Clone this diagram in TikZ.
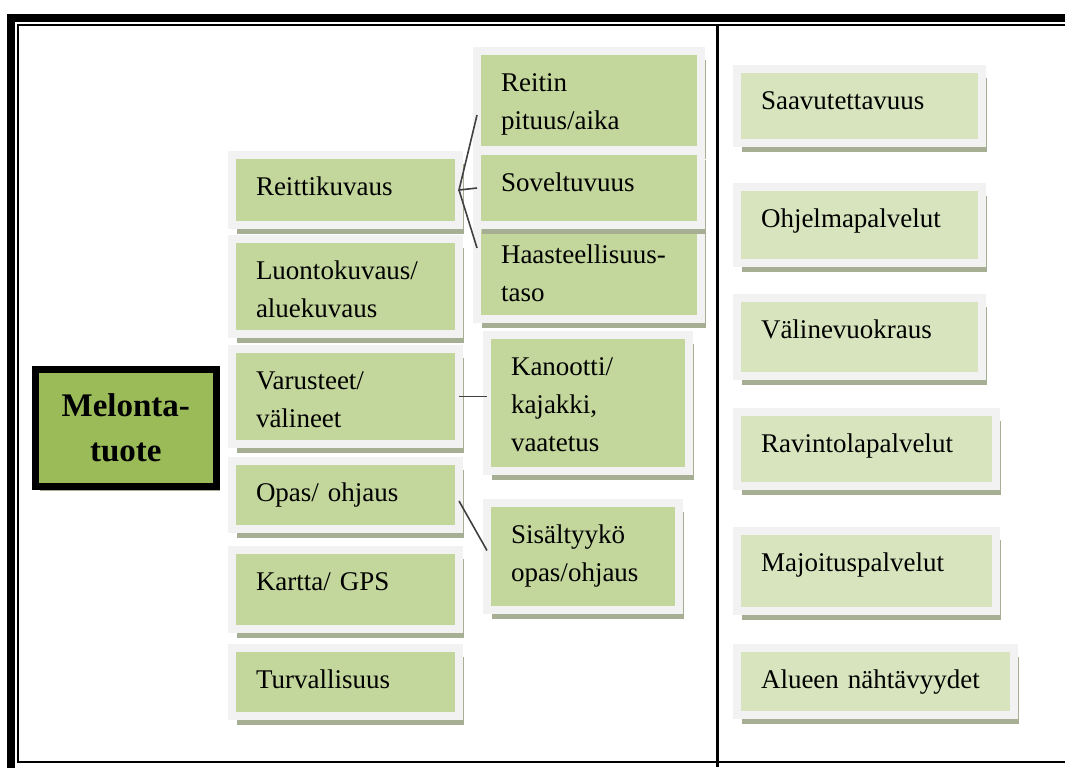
\documentclass[tikz,border=0pt]{standalone}
\usepackage{fontspec}
\setmainfont{Liberation Serif}
\usetikzlibrary{shadows}

\definecolor{tilegreen}{HTML}{C3D69B}
\definecolor{tilelight}{HTML}{D7E4BD}
\definecolor{tileframe}{HTML}{F2F2F2}
\definecolor{tileshadow}{HTML}{A6AE94}
\definecolor{coregreen}{HTML}{9BBB59}
\definecolor{linegrey}{HTML}{404040}

\tikzset{
  tile/.style={rectangle, anchor=north west, fill=tilegreen, draw=tileframe,
    line width=4pt, outer sep=0pt, inner xsep=12pt, inner ysep=10pt, text height=10pt,
    align=left, font=\fontsize{13.5}{19}\selectfont,
    drop shadow={shadow xshift=2.5pt, shadow yshift=-4.5pt, fill=tileshadow, opacity=1}},
  side/.style={tile, fill=tilelight},
  core/.style={rectangle, fill=coregreen, draw=black, line width=3.5pt, outer sep=0pt,
    minimum width=90.25pt, minimum height=58.5pt, align=center,
    font=\bfseries\fontsize{16.5}{22.5}\selectfont,
    drop shadow={shadow xshift=2pt, shadow yshift=-2pt, fill=tileshadow, opacity=1}},
  link/.style={draw=linegrey, line width=0.8pt}
}

\begin{document}
\begin{tikzpicture}[x=0.5pt, y=-0.5pt]
  \useasboundingbox (0,0) rectangle (1065,767);
  \clip (0,0) rectangle (1065,767);

  % frame
  \draw[line width=4pt] (11,800) -- (11,18) -- (1100,18);
  \draw[line width=1pt] (1100,762) -- (18,762) -- (18,25) -- (1100,25);
  \draw[line width=1.5pt] (717.5,25) -- (717.5,767);

  % main product
  \node[core] (melonta) at (125.75,428) {Melonta-\\tuote};

  % left column
  \node[tile, text width=89.5pt, text depth=5pt] (reitti) at (232,155) {Reittikuvaus};
  \node[tile, text width=89.5pt, text depth=17.5pt] (luonto) at (232,239) {Luontokuvaus/\\aluekuvaus};
  \node[tile, text width=89.5pt, text depth=17.5pt] (varuste) at (232,349) {Varusteet/\\välineet};
  \node[tile, text width=89.5pt, text depth=4pt] (opas) at (232,461) {Opas/ ohjaus};
  \node[tile, text width=89.5pt, text depth=9.5pt] (kartta) at (232,550) {Kartta/ GPS};
  \node[tile, text width=89.5pt, text depth=4pt] (turva) at (232,648) {Turvallisuus};

  % middle column
  \node[tile, text width=88pt, text depth=19.5pt] (reitin) at (477,51) {Reitin\\pituus/aika};
  \node[tile, text width=88pt, text depth=18pt] (haaste) at (477,223) {Haasteellisuus-\\taso};
  \node[tile, text width=88pt, text depth=7pt] (sovel) at (477,151) {Soveltuvuus};
  \node[tile, text width=77pt, text depth=38pt] (kanootti) at (487,335) {Kanootti/\\kajakki,\\vaatetus};
  \node[tile, text width=72pt, text depth=23.5pt] (sisalt) at (487,503) {Sisältyykö\\opas/ohjaus};

  % right column
  \node[side, text width=98.5pt, text depth=7pt] (saavu) at (737,69) {Saavutettavuus};
  \node[side, text width=98.5pt, text depth=8pt] (ohjelma) at (737,187) {Ohjelmapalvelut};
  \node[side, text width=98.5pt, text depth=9pt] (valine) at (737,298) {Välinevuokraus};
  \node[side, text width=105.5pt, text depth=7pt] (ravinto) at (737,412) {Ravintolapalvelut};
  \node[side, text width=105.5pt, text depth=10pt] (majoitus) at (737,531) {Majoituspalvelut};
  \node[side, text width=114.5pt, text depth=3.5pt] (alueen) at (737,648) {Alueen nähtävyydet};

  % links
  \draw[link] ([yshift=17.5pt]reitin.south west) -- (reitti.east) -- (sovel.west);
  \draw[link] (reitti.east) -- ([yshift=-12.5pt]haaste.north west);
  \draw[link] (varuste.east) -- (varuste.east -| kanootti.west);
  \draw[link] ([yshift=-3pt]opas.east) -- ([yshift=3pt]sisalt.west);
\end{tikzpicture}
\end{document}
